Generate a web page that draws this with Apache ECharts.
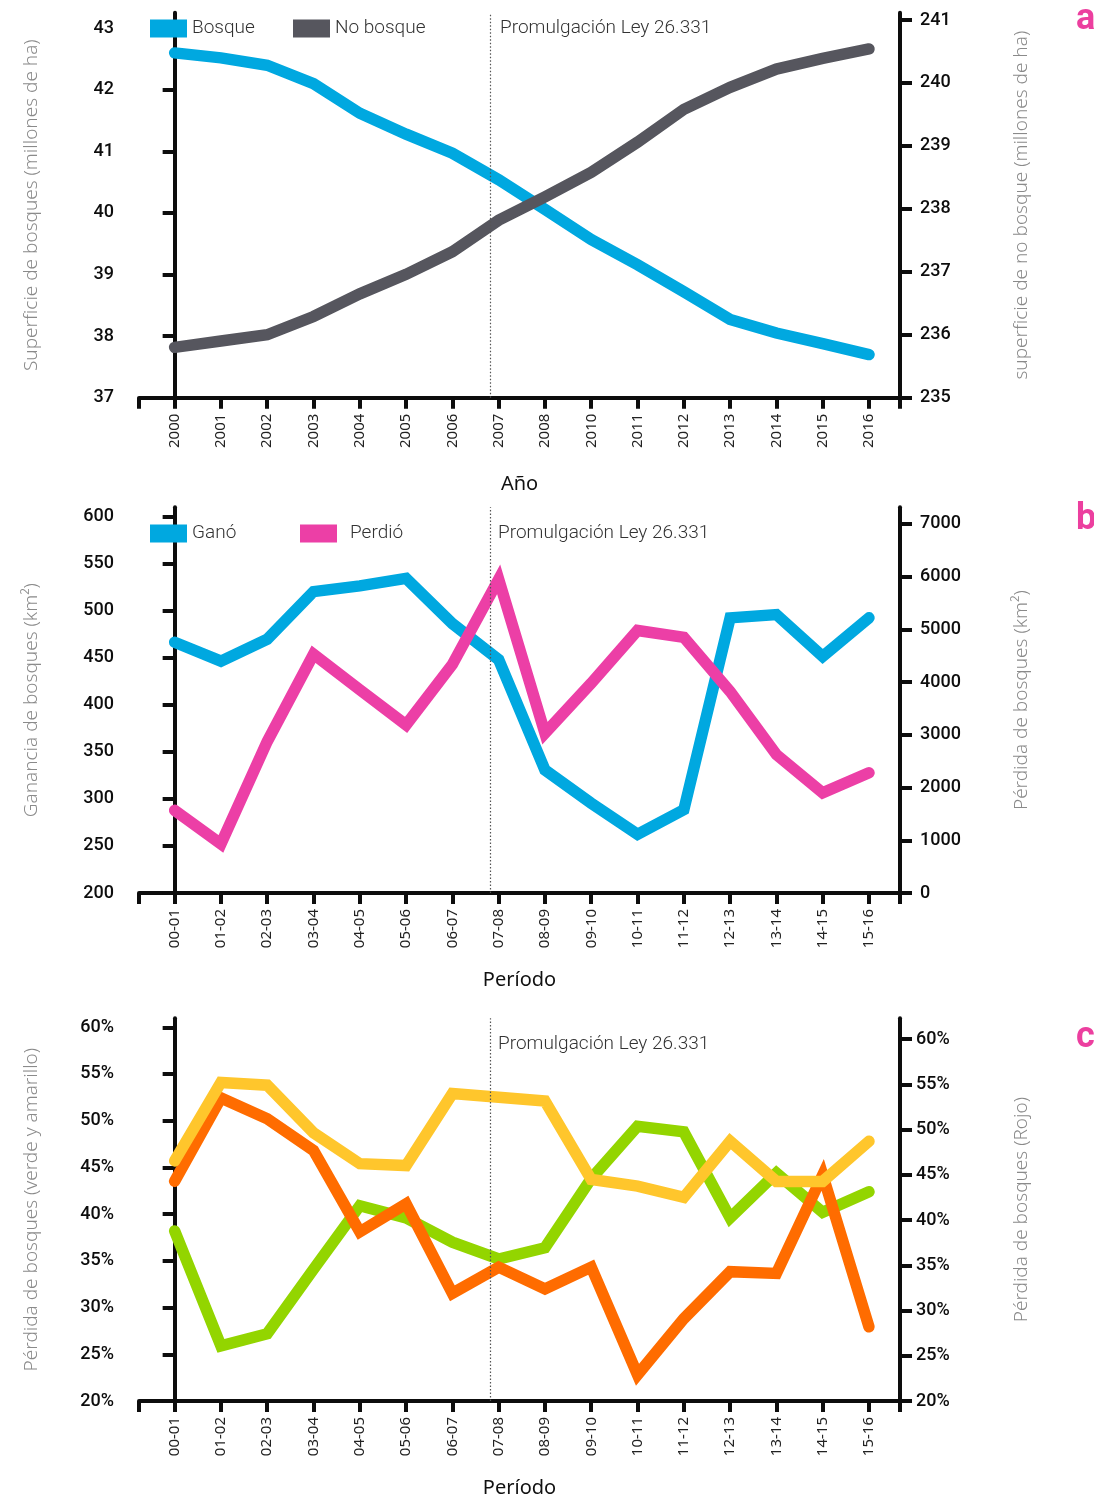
<!DOCTYPE html>
<html>
<head>
<meta charset="utf-8">
<title>Bosques y no bosques</title>
<script src="https://cdn.jsdelivr.net/npm/echarts@6/dist/echarts.min.js"></script>
<style>
  html, body { margin: 0; padding: 0; background: #ffffff; }
  #chart { width: 1094px; height: 1499px; }
</style>
</head>
<body>
<div id="chart"></div>
<script>
// ---- Data -------------------------------------------------------------
const YEARS = ['2000', '2001', '2002', '2003', '2004', '2005', '2006', '2007',
               '2008', '2010', '2011', '2012', '2013', '2014', '2015', '2016'];
const PERIODS = ['00-01', '01-02', '02-03', '03-04', '04-05', '05-06', '06-07', '07-08',
                 '08-09', '09-10', '10-11', '11-12', '12-13', '13-14', '14-15', '15-16'];

// (a) millones de ha
const BOSQUE    = [42.6, 42.52, 42.4, 42.1, 41.62, 41.28, 40.97, 40.54,
                   40.06, 39.57, 39.16, 38.72, 38.27, 38.05, 37.88, 37.7];
const NO_BOSQUE = [235.8, 235.9, 236.0, 236.29, 236.65, 236.96, 237.32, 237.82,
                   238.19, 238.58, 239.06, 239.58, 239.93, 240.22, 240.39, 240.54];

// (b) km²
const GANO   = [466.6, 446.5, 469.7, 520.4, 526.5, 534.5, 486.4, 448,
                330.7, 295.4, 262.3, 288.5, 492.5, 496, 451.5, 492.5];
const PERDIO = [1568, 930, 2875, 4530, 3855, 3190, 4337, 5950,
                3030, 3980, 4980, 4850, 3823, 2625, 1900, 2281];

// (c) porcentajes
const VERDE    = [38.2, 25.9, 27.2, 34.1, 40.9, 39.6, 37.0, 35.2,
                  36.4, 43.8, 49.4, 48.8, 39.6, 44.4, 40.2, 42.4];
const AMARILLO = [45.7, 54.1, 53.8, 48.7, 45.4, 45.2, 52.9, 52.5,
                  52.1, 43.7, 43.0, 41.8, 47.8, 43.5, 43.5, 47.8];
const ROJO     = [44.3, 53.5, 51.2, 47.7, 38.7, 41.8, 31.9, 34.8,
                  32.4, 34.8, 22.9, 29.1, 34.3, 34.1, 45.0, 28.2];

// Axis tick values
const A_LEFT_TICKS  = [37, 38, 39, 40, 41, 42, 43];
const A_RIGHT_TICKS = [235, 236, 237, 238, 239, 240, 241];
const B_LEFT_TICKS  = [200, 250, 300, 350, 400, 450, 500, 550, 600];
const B_RIGHT_TICKS = [0, 1000, 2000, 3000, 4000, 5000, 6000, 7000];
const C_TICKS       = [20, 25, 30, 35, 40, 45, 50, 55, 60];

// Position (in category units) of the law enactment marker
const LAW_X = 6.82;
const LAW_TEXT = 'Promulgación Ley 26.331';

// ---- Styling helpers --------------------------------------------------
const BLACK = '#0d0d0d';
const X_MIN = -0.77, X_MAX = 15.67;
const IDX = YEARS.map((_, i) => i);
const pairs = arr => arr.map((v, i) => [i, v]);

function xAxisFor(gridIndex, labels, name) {
  return {
    type: 'value', gridIndex, min: X_MIN, max: X_MAX,
    splitLine: { show: false },
    axisLine: { show: true, onZero: false, lineStyle: { color: BLACK, width: 4 } },
    axisTick: { show: true, length: 11, customValues: [X_MIN].concat(IDX, [X_MAX]),
                lineStyle: { color: BLACK, width: 4 } },
    axisLabel: { customValues: IDX, rotate: 90, margin: 16, fontSize: 15,
                 fontFamily: 'Noto Sans', color: '#222',
                 formatter: v => labels[Math.round(v)] },
    name, nameLocation: 'middle', nameGap: 77,
    nameTextStyle: { fontSize: 20, fontFamily: 'Noto Sans', color: '#111' }
  };
}

function yAxisFor(gridIndex, position, min, max, ticks, name, opts) {
  opts = opts || {};
  return {
    type: 'value', gridIndex, position, min, max,
    splitLine: { show: false },
    axisLine: { show: true, lineStyle: { color: BLACK, width: 4 } },
    axisTick: { show: true, length: 12, customValues: ticks,
                lineStyle: { color: BLACK, width: 4 } },
    axisLabel: { customValues: ticks, margin: opts.margin || (position === 'left' ? 25 : 20),
                 fontSize: 18, fontWeight: 500, fontFamily: 'Roboto', color: BLACK,
                 formatter: v => String(Math.round(v)) + (opts.percent ? '%' : '') },
    name, nameLocation: 'middle', nameRotate: 90,
    nameGap: position === 'left' ? 98 : 112,
    nameTextStyle: { fontSize: 19, fontFamily: 'Noto Sans', fontWeight: 300, color: '#8a8a8a' }
  };
}

function lineSeries(name, data, color, xAxisIndex, yAxisIndex, withLaw) {
  const s = {
    name, type: 'line', data: pairs(data), xAxisIndex, yAxisIndex,
    showSymbol: false, symbol: 'none', smooth: false,
    lineStyle: { color, width: 11.5, cap: 'round', join: 'miter', miterLimit: 6 },
    itemStyle: { color },
    silent: true
  };
  if (withLaw) {
    s.markLine = {
      silent: true, symbol: ['none', 'none'], label: { show: false },
      lineStyle: { color: '#555', width: 1.2, type: [1.5, 2] },
      data: [{ xAxis: LAW_X }]
    };
  }
  return s;
}

function legendFor(name, left, top, extraPad) {
  return {
    data: [name], left, top, padding: 0, icon: 'rect',
    itemWidth: 37, itemHeight: 18, selectedMode: false,
    textStyle: { fontSize: 19, fontFamily: 'Roboto', fontWeight: 300, color: '#333',
                 padding: [0, 0, 0, extraPad || 0] }
  };
}

function textTitle(text, left, top, style) {
  return { text, left, top, padding: 0, textStyle: style };
}

const lawStyle = { fontSize: 19, fontFamily: 'Roboto', fontWeight: 300, color: '#333' };
const tagStyle = { fontSize: 36, fontFamily: 'Roboto', fontWeight: 'bold', color: '#ec3f9f' };

// ---- Chart ------------------------------------------------------------
const chart = echarts.init(document.getElementById('chart'), null, { renderer: 'canvas' });

const option = {
  animation: false,
  backgroundColor: '#ffffff',
  grid: [
    { left: 139, right: 194, top: 12.7, bottom: 1101.3 },
    { left: 139, right: 194, top: 507.3, bottom: 606 },
    { left: 139, right: 194, top: 1018.3, bottom: 96 }
  ],
  xAxis: [
    xAxisFor(0, YEARS, 'Año'),
    xAxisFor(1, PERIODS, 'Período'),
    xAxisFor(2, PERIODS, 'Período')
  ],
  yAxis: [
    yAxisFor(0, 'left', 37, 43.253, A_LEFT_TICKS, 'Superficie de bosques (millones de ha)'),
    yAxisFor(0, 'right', 235, 241.116, A_RIGHT_TICKS, 'superficie de no bosque (millones de ha)'),
    yAxisFor(1, 'left', 200, 610, B_LEFT_TICKS, 'Ganancia de bosques (km²)'),
    yAxisFor(1, 'right', 0, 7316.8, B_RIGHT_TICKS, 'Pérdida de bosques (km²)'),
    yAxisFor(2, 'left', 20, 60.96, C_TICKS, 'Pérdida de bosques (verde y amarillo)', { percent: true }),
    yAxisFor(2, 'right', 20, 62.31, C_TICKS, 'Pérdida de bosques (Rojo)', { percent: true, margin: 16 })
  ],
  legend: [
    legendFor('Bosque', 150, 19),
    legendFor('No bosque', 293, 19),
    legendFor('Ganó', 150, 524),
    legendFor('Perdió', 300, 524, 8)
  ],
  title: [
    textTitle(LAW_TEXT, 500, 19, lawStyle),
    textTitle(LAW_TEXT, 498, 524, lawStyle),
    textTitle(LAW_TEXT, 498, 1035, lawStyle),
    textTitle('a', 1076, 2, tagStyle),
    textTitle('b', 1076, 502, tagStyle),
    textTitle('c', 1076, 1020, tagStyle)
  ],
  series: [
    lineSeries('Bosque', BOSQUE, '#00a8e0', 0, 0, true),
    lineSeries('No bosque', NO_BOSQUE, '#56565e', 0, 1, false),
    lineSeries('Ganó', GANO, '#00a8e0', 1, 2, true),
    lineSeries('Perdió', PERDIO, '#ec3fa6', 1, 3, false),
    lineSeries('Verde', VERDE, '#93d500', 2, 4, true),
    lineSeries('Rojo', ROJO, '#ff6c00', 2, 5, false),
    lineSeries('Amarillo', AMARILLO, '#ffc62c', 2, 4, false)
  ]
};

chart.setOption(option);
</script>
</body>
</html>
